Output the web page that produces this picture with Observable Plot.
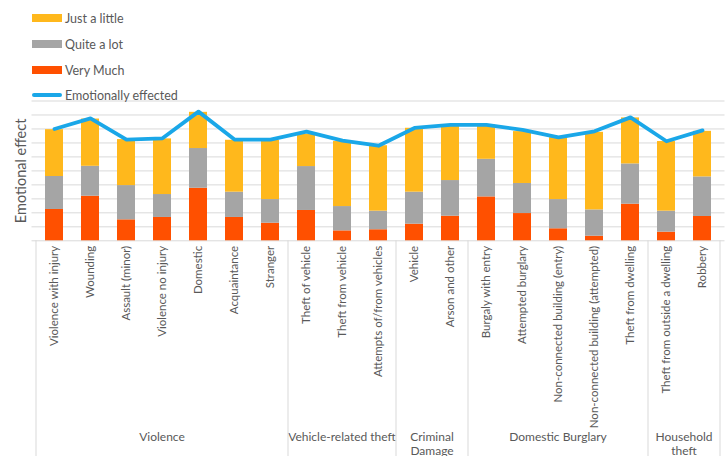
<!DOCTYPE html>
<html><head><meta charset="utf-8">
<script src="https://cdn.jsdelivr.net/npm/d3@7"></script>
<script src="https://cdn.jsdelivr.net/npm/@observablehq/plot@0.6"></script>
<style>
body{margin:0;background:#fff;font-family:Lato,"Open Sans",sans-serif;}
#wrap{position:relative;width:725px;height:456px;overflow:hidden;}
#legend{position:absolute;left:0;top:0;width:300px;height:100px;}
.li{position:absolute;left:32px;height:20px;white-space:nowrap;font-size:12.5px;color:#595959;display:flex;align-items:center;}
.sw{display:inline-block;width:30px;height:8px;margin-right:3px;}
.ln{display:inline-block;width:30px;height:3.5px;margin-right:3px;border-radius:2px;}
</style></head>
<body>
<div id="wrap"><div id="legend"></div></div>
<script>
const categories = ["Violence with injury","Wounding","Assault (minor)","Violence no injury","Domestic","Acquaintance","Stranger","Theft of vehicle","Theft from vehicle","Attempts of/from vehicles","Vehicle","Arson and other","Burgaly with entry","Attempted burglary","Non-connected building (entry)","Non-connected building (attempted)","Theft from dwelling","Theft from outside a dwelling","Robbery"];
const groupNames = ["Violence","Vehicle-related theft","Criminal\nDamage","Domestic Burglary","Household\ntheft"];
const groupSizes = [7,3,2,5,2];
const veryMuch = [22.4,31.9,15.0,16.7,37.6,16.7,12.6,21.7,7.1,7.9,11.9,17.6,31.4,19.5,8.6,3.3,26.2,6.2,17.4];
const quiteALot = [23.6,21.4,24.5,16.4,28.4,18.1,16.9,31.4,17.4,13.3,22.9,25.5,26.9,21.5,20.9,18.8,28.8,15.0,28.3];
const justALittle = [33.5,33.8,32.9,39.8,25.9,37.1,42.4,23.1,46.5,46.8,45.7,38.8,24.6,37.1,44.3,55.5,32.9,49.8,32.6];
const emotionallyEffected = [80.0,87.6,72.4,73.3,92.4,72.4,72.4,78.1,71.7,68.0,80.7,82.9,82.9,79.3,74.0,78.3,88.3,71.2,79.0];
const seriesNames = ["Very Much","Quite a lot","Just a little"];
const seriesColors = ["#FF5000","#A5A5A5","#FFB81C"];
const lineName = "Emotionally effected";
const lineColor = "#1AA7E8";

const rows = [];
categories.forEach((c,i)=>{
  rows.push({cat:c, series:"Very Much", value:veryMuch[i]});
  rows.push({cat:c, series:"Quite a lot", value:quiteALot[i]});
  rows.push({cat:c, series:"Just a little", value:justALittle[i]});
});

function groupMark(index, scales, values, dimensions) {
  const x = scales.x;
  const step = x.step(), bw = x.bandwidth();
  const g = d3.create("svg:g");
  const top = dimensions.height - dimensions.marginBottom;
  const bottom = dimensions.height;
  let i = 0;
  const bounds = [];
  groupNames.forEach((name,k)=>{
    const first = categories[i], last = categories[i+groupSizes[k]-1];
    const x0 = x(first) - (step-bw)/2;
    const x1 = x(last) + bw + (step-bw)/2;
    if (k===0) bounds.push(x0);
    bounds.push(x1);
    const t = g.append("text").attr("x",(x0+x1)/2).attr("y",441)
      .attr("text-anchor","middle").attr("fill","#595959").attr("font-size",12);
    name.split("\n").forEach((line,j)=>{
      t.append("tspan").attr("x",(x0+x1)/2).attr("dy", j===0?0:13.5).text(line);
    });
    i += groupSizes[k];
  });
  bounds.forEach(b=>{
    g.append("line").attr("x1",b).attr("x2",b).attr("y1",top).attr("y2",bottom)
      .attr("stroke","#d9d9d9").attr("stroke-width",1);
  });
  return g.node();
}

const plot = Plot.plot({
  width:725, height:456,
  marginLeft:31.5, marginRight:0.5, marginTop:100.5, marginBottom:215.7,
  style:{fontFamily:"Lato, 'Open Sans', sans-serif", background:"#fff"},
  x:{type:"band", domain:categories, paddingInner:0.5, paddingOuter:0.25},
  y:{domain:[0,100], axis:null},
  color:{domain:seriesNames, range:seriesColors},
  marks:[
    Plot.gridY(d3.range(0,101,10),{stroke:"#d9d9d9", strokeOpacity:1, strokeWidth:1}),
    Plot.barY(rows,{x:"cat", y:"value", fill:"series", order:seriesNames}),
    Plot.line(categories,{x:d=>d, y:(d,i)=>emotionallyEffected[i], stroke:lineColor, strokeWidth:3.8, curve:"linear"}),
    Plot.axisX({tickRotate:-90, tickSize:0, tickPadding:5, fontSize:11.5, label:null, color:"#595959"}),
    Plot.text(["Emotional effect"],{frameAnchor:"left", textAnchor:"middle", rotate:-90, dx:-11, fontSize:14.5, fill:"#595959"}),
    groupMark
  ]
});
document.getElementById("wrap").appendChild(plot);

const legend = d3.select("#legend");
const legItems = [
  {name:"Just a little", color:"#FFB81C", type:"bar", y:18},
  {name:"Quite a lot", color:"#A5A5A5", type:"bar", y:44},
  {name:"Very Much", color:"#FF5000", type:"bar", y:70},
  {name:lineName, color:lineColor, type:"line", y:95}
];
legItems.forEach(it=>{
  const d = legend.append("div").attr("class","li").style("top",(it.y-10)+"px");
  d.append("span").attr("class", it.type==="bar"?"sw":"ln").style("background", it.color);
  d.append("span").text(it.name);
});
</script>
</body></html>
